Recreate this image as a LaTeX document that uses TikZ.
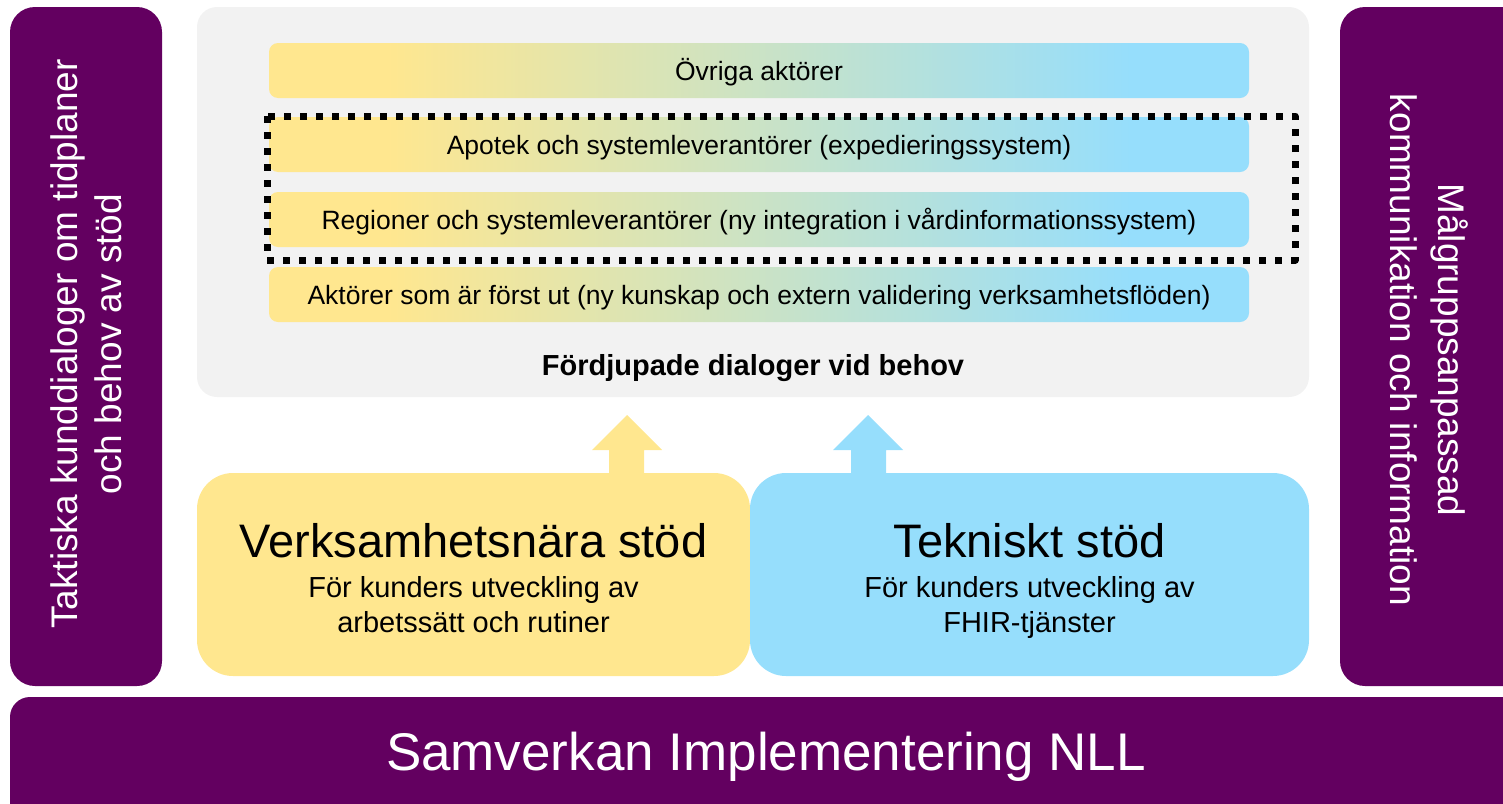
\documentclass[tikz,border=0pt]{standalone}
\usepackage{fontspec}
\setmainfont{Liberation Sans}
\usepackage{xcolor}
\definecolor{wwqqww}{rgb}{0.388,0.,0.376}
\definecolor{ffeecc}{rgb}{1.,0.906,0.561}
\definecolor{ccddff}{rgb}{0.588,0.871,0.988}
\definecolor{eeeeee}{rgb}{0.949,0.949,0.949}
\pgfdeclarehorizontalshading{yellowblue}{100bp}{color(0bp)=(ffeecc); color(31bp)=(ffeecc); color(69bp)=(ccddff); color(100bp)=(ccddff)}

\begin{document}
\begin{tikzpicture}[line cap=round,line join=round,x=1pt,y=-1pt,
  purplebox/.style={fill=wwqqww,rounded corners=25pt,inner sep=0pt,text=white},
  bar/.style={shade,shading=yellowblue,rounded corners=9pt,minimum width=980pt,minimum height=55pt,inner sep=0pt,text height=20pt,text depth=0pt,font=\fontsize{26.5}{30}\selectfont},
  supportbox/.style={rounded corners=36pt,minimum width=553pt,minimum height=203pt,inner sep=0pt},
  supporttext/.style={align=center,font=\fontsize{29}{35}\selectfont},
  sidetext/.style={align=center,text=white,font=\fontsize{37}{44}\selectfont}]
\useasboundingbox (0,0) rectangle (1503,803);
\clip (0,0) rectangle (1503,803);
% side columns and bottom bar
\node[purplebox,minimum width=152pt,minimum height=679pt] (taktik) at (86,346.5) {};
\node[sidetext,rotate=90] (taktiktxt) at (86,344) {Taktiska kunddialoger om tidplaner\\och behov av stöd};
\node[purplebox,minimum width=200pt,minimum height=679pt] (malgrupp) at (1440,346.5) {};
\node[sidetext,rotate=-90,font=\fontsize{37}{48}\selectfont] (malgrupptxt) at (1429,350) {Målgruppsanpassad\\kommunikation och information};
\node[purplebox,rounded corners=20pt,minimum width=1540pt,minimum height=160pt] (samverkan) at (780,777) {};
\node[text=white,font=\fontsize{53}{60}\selectfont] (samverkantxt) at (766,757) {Samverkan Implementering NLL};
% dialog panel
\node[fill=eeeeee,rounded corners=20pt,minimum width=1112pt,minimum height=390pt,inner sep=0pt] (panel) at (753,202) {};
\node[bar] (ovriga) at (759,70.5) {Övriga aktörer};
\node[bar] (apotek) at (759,144.5) {Apotek och systemleverantörer (expedieringssystem)};
\node[bar] (regioner) at (759,219.5) {Regioner och systemleverantörer (ny integration i vårdinformationssystem)};
\node[bar] (forst) at (759,294.5) {Aktörer som är först ut (ny kunskap och extern validering verksamhetsflöden)};
\draw[line width=7pt,line cap=butt,dash pattern=on 7pt off 9pt] (267,116) rectangle (1295,260);
\node[font=\bfseries\fontsize{29}{34}\selectfont] (fordjupade) at (753,368) {Fördjupade dialoger vid behov};
% support boxes and arrows
\node[supportbox,fill=ffeecc] (verk) at (473.5,574.5) {};
\node[supportbox,fill=ccddff,minimum width=559pt] (tekn) at (1029.5,574.5) {};
\node[supporttext] (verktxt) at (473.5,578) {{\fontsize{47}{52}\selectfont Verksamhetsnära stöd}\\[5pt]För kunders utveckling av\\arbetssätt och rutiner};
\node[supporttext] (tekntxt) at (1029.5,581) {{\fontsize{47}{52}\selectfont Tekniskt stöd}\\[5pt]För kunders utveckling av\\FHIR-tjänster};
\fill[ffeecc,line join=miter] (609,475) -- (609,450) -- (592,450) -- (627,415) -- (662,450) -- (644,450) -- (644,475) -- cycle;
\fill[ccddff,line join=miter] (851,475) -- (851,450) -- (833,450) -- (868,415) -- (903,450) -- (886,450) -- (886,475) -- cycle;
\end{tikzpicture}
\end{document}
